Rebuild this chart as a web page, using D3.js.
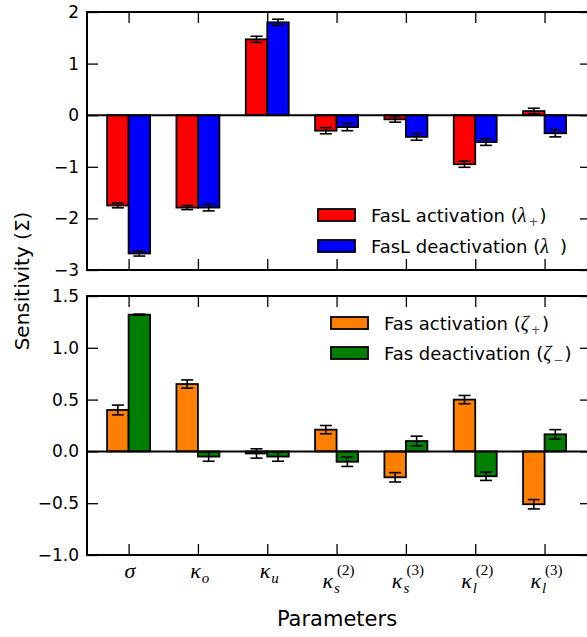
<!DOCTYPE html>
<html>
<head>
<meta charset="utf-8">
<script src="https://cdn.jsdelivr.net/npm/d3@7/dist/d3.min.js"></script>
<style>
  html, body { margin: 0; padding: 0; background: #fff; }
  svg { display: block; }
  .tick text { font-family: "DejaVu Sans", sans-serif; }
</style>
</head>
<body>
<svg id="chart" width="587" height="637"></svg>
<script>
// Parameters (x categories): base symbol, subscript, superscript
const paramBase = ["σ", "κ", "κ", "κ", "κ", "κ", "κ"];
const paramSub  = ["", "o", "u", "s", "s", "l", "l"];
const paramSup  = ["", "", "", "(2)", "(3)", "(2)", "(3)"];

// Upper panel: FasL sensitivities with error bars
const faslAct      = [-1.75, -1.79, 1.47, -0.30, -0.08, -0.95, 0.08];
const faslActErr   = [0.045, 0.04, 0.06, 0.06, 0.055, 0.06, 0.055];
const faslDeact    = [-2.68, -1.79, 1.80, -0.23, -0.42, -0.52, -0.35];
const faslDeactErr = [0.05, 0.065, 0.06, 0.07, 0.065, 0.065, 0.07];

// Lower panel: Fas sensitivities with error bars
const fasAct      = [0.40, 0.65, -0.02, 0.21, -0.25, 0.50, -0.51];
const fasActErr   = [0.047, 0.04, 0.045, 0.04, 0.045, 0.04, 0.045];
const fasDeact    = [1.32, -0.05, -0.05, -0.10, 0.10, -0.24, 0.165];
const fasDeactErr = [0.005, 0.045, 0.045, 0.045, 0.047, 0.04, 0.045];

const topTicks    = [2, 1, 0, -1, -2, -3];
const bottomTicks = [1.5, 1.0, 0.5, 0.0, -0.5, -1.0];

const colors = { faslAct: "#ff0000", faslDeact: "#0000ff", fasAct: "#ff7f00", fasDeact: "#007f00" };

const svg = d3.select("#chart");
const sansFont = '"DejaVu Sans", sans-serif';
const mathFont = '"Liberation Serif", "DejaVu Serif", serif';

const left = 87, right = 591;
const barW = 0.31;
const x = d3.scaleLinear().domain([-0.6, 6.67]).range([left, right]);
const idx = d3.range(paramBase.length);

function panel(cfg) {
  const y = d3.scaleLinear().domain(cfg.domain).range([cfg.bottom, cfg.top]);
  const g = svg.append("g");
  const tickLen = 11;

  // bars
  const series = [
    { vals: cfg.a, errs: cfg.aErr, color: cfg.aColor, off: -barW },
    { vals: cfg.b, errs: cfg.bErr, color: cfg.bColor, off: 0 }
  ];
  series.forEach(s => {
    g.selectAll(null).data(idx).enter().append("rect")
      .attr("x", i => x(i + s.off))
      .attr("width", x(barW) - x(0))
      .attr("y", i => y(Math.max(0, s.vals[i])))
      .attr("height", i => Math.abs(y(s.vals[i]) - y(0)))
      .attr("fill", s.color)
      .attr("stroke", "#000")
      .attr("stroke-width", 1.8);
  });

  // zero line
  g.append("line")
    .attr("x1", left).attr("x2", right)
    .attr("y1", y(0)).attr("y2", y(0))
    .attr("stroke", "#000").attr("stroke-width", 2);

  // error bars
  series.forEach(s => {
    const eg = g.selectAll(null).data(idx).enter().append("g")
      .attr("stroke", "#000").attr("stroke-width", 1.6);
    const cx = i => x(i + s.off + barW / 2);
    eg.append("line")
      .attr("x1", cx).attr("x2", cx)
      .attr("y1", i => y(s.vals[i] - s.errs[i]))
      .attr("y2", i => y(s.vals[i] + s.errs[i]));
    [-1, 1].forEach(sign => {
      eg.append("line")
        .attr("x1", i => cx(i) - 6).attr("x2", i => cx(i) + 6)
        .attr("y1", i => y(s.vals[i] + sign * s.errs[i]))
        .attr("y2", i => y(s.vals[i] + sign * s.errs[i]));
    });
  });

  // axes with inward ticks
  const yLeft = d3.axisLeft(y).tickValues(cfg.ticks).tickSize(-tickLen).tickPadding(8)
    .tickFormat(cfg.fmt);
  const ga = g.append("g").attr("transform", `translate(${left},0)`).call(yLeft);
  ga.select(".domain").remove();
  ga.selectAll(".tick line").attr("stroke", "#000").attr("stroke-width", 1.3);
  ga.selectAll(".tick text").attr("font-size", 17).attr("fill", "#000")
    .attr("font-family", sansFont);

  const yRight = d3.axisRight(y).tickValues(cfg.ticks).tickSize(-tickLen).tickFormat("");
  const gr = g.append("g").attr("transform", `translate(${right},0)`).call(yRight);
  gr.select(".domain").remove();
  gr.selectAll(".tick line").attr("stroke", "#000").attr("stroke-width", 1.3);

  const xTop = d3.axisTop(x).tickValues(idx).tickSize(-tickLen).tickFormat("");
  const gt = g.append("g").attr("transform", `translate(0,${cfg.top})`).call(xTop);
  gt.select(".domain").remove();
  gt.selectAll(".tick line").attr("stroke", "#000").attr("stroke-width", 1.3);

  const xBot = d3.axisBottom(x).tickValues(idx).tickSize(-tickLen).tickFormat("");
  const gb = g.append("g").attr("transform", `translate(0,${cfg.bottom})`).call(xBot);
  gb.select(".domain").remove();
  gb.selectAll(".tick line").attr("stroke", "#000").attr("stroke-width", 1.3);

  // frame
  g.append("rect")
    .attr("x", left).attr("y", cfg.top)
    .attr("width", right - left).attr("height", cfg.bottom - cfg.top)
    .attr("fill", "none").attr("stroke", "#000").attr("stroke-width", 2);

  // legend
  const lg = g.append("g");
  cfg.legend.forEach((item, k) => {
    const ly = cfg.legendY + k * cfg.legendGap;
    lg.append("rect")
      .attr("x", cfg.legendX).attr("y", ly - 6)
      .attr("width", 37).attr("height", 12)
      .attr("fill", item.color).attr("stroke", "#000").attr("stroke-width", 1.8);
    const t = lg.append("text")
      .attr("x", cfg.legendX + 53).attr("y", ly + 6.5)
      .attr("font-family", sansFont).attr("font-size", 18).attr("fill", "#000");
    t.append("tspan").text(item.label + " (");
    t.append("tspan").attr("font-family", mathFont).attr("font-style", "italic")
      .attr("font-size", 20).text(item.sym);
    if (item.sub) {
      t.append("tspan").attr("dy", 4).attr("dx", 2).attr("font-size", 12)
        .attr("fill", "#555").text(item.sub);
      t.append("tspan").attr("dy", -4).attr("dx", 1).text(")");
    } else {
      t.append("tspan").attr("dx", 11).text(")");
    }
  });
  return y;
}

panel({
  domain: [-3, 2], top: 12, bottom: 270, ticks: topTicks,
  fmt: d => d3.format("d")(d).replace("-", "\u2212"),
  a: faslAct, aErr: faslActErr, aColor: colors.faslAct,
  b: faslDeact, bErr: faslDeactErr, bColor: colors.faslDeact,
  legendX: 318, legendY: 215, legendGap: 31,
  legend: [
    { color: colors.faslAct, label: "FasL activation", sym: "λ", sub: "+" },
    { color: colors.faslDeact, label: "FasL deactivation", sym: "λ", sub: "" }
  ]
});

panel({
  domain: [-1, 1.5], top: 296, bottom: 555, ticks: bottomTicks,
  fmt: d => d3.format(".1f")(d).replace("-", "\u2212"),
  a: fasAct, aErr: fasActErr, aColor: colors.fasAct,
  b: fasDeact, bErr: fasDeactErr, bColor: colors.fasDeact,
  legendX: 331, legendY: 323, legendGap: 30,
  legend: [
    { color: colors.fasAct, label: "Fas activation", sym: "ζ", sub: "+" },
    { color: colors.fasDeact, label: "Fas deactivation", sym: "ζ", sub: "\u2212" }
  ]
});

// category labels (math italic with sub/superscripts)
idx.forEach(i => {
  const hasSup = paramSup[i] !== "";
  const lg = svg.append("g");
  const t = lg.append("text")
    .attr("x", 0).attr("y", hasSup ? 588 : 578)
    .attr("font-family", mathFont).attr("font-style", "italic")
    .attr("font-size", 22).attr("fill", "#000");
  t.append("tspan").text(paramBase[i]);
  let subW = 0;
  if (paramSub[i]) {
    const s = t.append("tspan").attr("dx", 1).attr("dy", 5).attr("font-size", 15).text(paramSub[i]);
    subW = s.node().getComputedTextLength() + 1;
  }
  if (hasSup) {
    t.append("tspan").attr("dx", -subW + 4).attr("dy", -18).attr("font-size", 15)
      .attr("font-style", "normal").text(paramSup[i]);
  }
  const bb = lg.node().getBBox();
  lg.attr("transform", `translate(${x(i) - (bb.x + bb.width / 2) + 2},0)`);
});

// axis titles
svg.append("text")
  .attr("x", (left + right) / 2 - 2).attr("y", 626)
  .attr("text-anchor", "middle")
  .attr("font-family", sansFont).attr("font-size", 21).attr("fill", "#000")
  .text("Parameters");

svg.append("text")
  .attr("transform", "translate(29,281) rotate(-90)")
  .attr("text-anchor", "middle")
  .attr("font-family", sansFont).attr("font-size", 20).attr("fill", "#000")
  .text("Sensitivity (Σ)");
</script>
</body>
</html>
